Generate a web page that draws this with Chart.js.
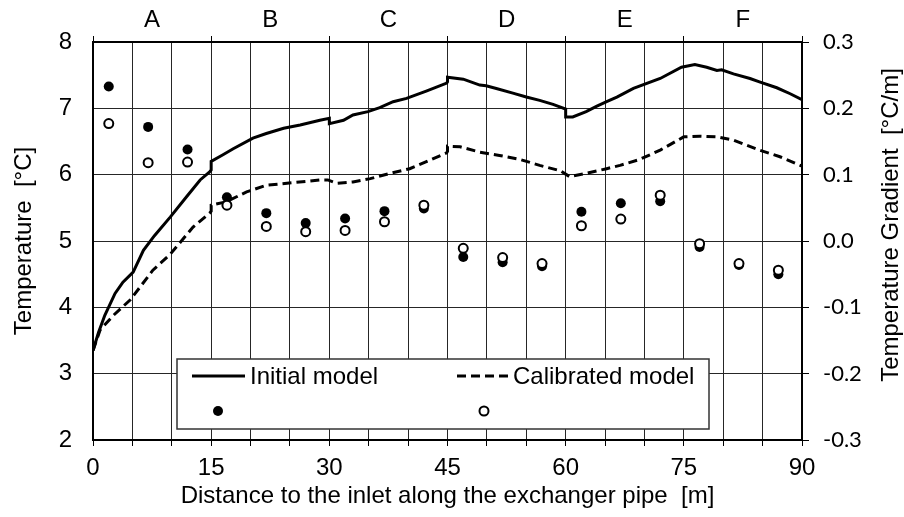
<!DOCTYPE html>
<html>
<head>
<meta charset="utf-8">
<script src="https://cdn.jsdelivr.net/npm/chart.js@4"></script>
<style>
  html, body { margin: 0; padding: 0; background: #fff; }
  #wrap { width: 904px; height: 517px; }
</style>
</head>
<body>
<div id="wrap"><canvas id="pipeChart" width="904" height="517"></canvas></div>
<script>
// pipe sections, labelled along the top axis
const sections = ['A', 'B', 'C', 'D', 'E', 'F'];
const sectionLength = 15;

// simulated temperature along the exchanger pipe: distance [m], temperature [°C]
const initialX = [0, 0.7, 1.5, 2.8, 3.8, 5.1, 6.4, 7.8, 9.8, 11.9, 13.6, 14.8, 15, 15, 16.5, 17.8, 20.3, 22, 24.2, 26.3,
    28.8, 30, 30, 31.8, 33, 34.9, 36.4, 38.1, 39.8, 42.3, 44.9, 45, 45, 47, 49.1, 49.9, 51.2, 53.3, 55, 56.7,
    58.4, 60, 60, 60.9, 62.6, 63.9, 65.2, 66.5, 68.6, 72, 74.7, 76.4, 77.9, 79.2, 79.8, 81.3, 83.4, 84.6, 86.8, 88.5, 90];
const initialT = [3.35, 3.62, 3.88, 4.21, 4.38, 4.53, 4.86, 5.08, 5.36, 5.67, 5.92, 6.04, 6.07, 6.2, 6.3, 6.39, 6.55, 6.62, 6.70, 6.75,
    6.82, 6.85, 6.77, 6.82, 6.90, 6.95, 7.01, 7.10, 7.15, 7.26, 7.38, 7.40, 7.47, 7.44, 7.35, 7.34, 7.30, 7.23, 7.17, 7.12,
    7.06, 6.99, 6.87, 6.87, 6.95, 7.03, 7.10, 7.17, 7.30, 7.45, 7.62, 7.66, 7.62, 7.57, 7.58, 7.52, 7.45, 7.40, 7.31, 7.22, 7.13];

const calibX = [0, 0.9, 2.6, 4.7, 6, 7.6, 9.8, 12.7, 14.8, 15, 15, 16.9, 19.5, 22, 25.4, 28.8, 29.8, 30.9, 33, 35.2,
    37.7, 40.2, 42.8, 44.9, 45, 45, 46.6, 49.1, 51.6, 54.2, 56.7, 59.3, 60.5, 62.6, 65.2, 66.9, 69.4, 72, 75, 77,
    79.2, 81.3, 84.6, 87.2, 90];
const calibT = [3.35, 3.66, 3.88, 4.11, 4.31, 4.56, 4.8, 5.21, 5.42, 5.45, 5.54, 5.59, 5.74, 5.84, 5.88, 5.92, 5.92, 5.87, 5.89, 5.94,
    6.02, 6.09, 6.22, 6.33, 6.35, 6.43, 6.42, 6.34, 6.29, 6.23, 6.14, 6.06, 5.97, 6.02, 6.09, 6.14, 6.23, 6.37, 6.57, 6.58,
    6.57, 6.52, 6.37, 6.27, 6.13];

// temperature gradient at the sampling points [°C/m]
const sampleX = [2, 7, 12, 17, 22, 27, 32, 37, 42, 47, 52, 57, 62, 67, 72, 77, 82, 87];
const gradFilled = [0.233, 0.172, 0.138, 0.066, 0.042, 0.027, 0.034, 0.045, 0.049, -0.024, -0.032, -0.038, 0.044, 0.057, 0.060, -0.009, -0.036, -0.050];
const gradOpen = [0.177, 0.118, 0.119, 0.054, 0.022, 0.014, 0.016, 0.029, 0.054, -0.011, -0.025, -0.034, 0.023, 0.033, 0.069, -0.004, -0.034, -0.044];

// axis ranges
const distRange = [0, 90];
const tempRange = [2, 8];
const gradRange = [-0.3, 0.3];

const toPoints = (xs, ys) => xs.map((x, i) => ({ x: x, y: ys[i] }));

const ARIAL = "'Liberation Sans', Arial, sans-serif";
const GRID = '#262626';
const FS = 24;

// legend drawn inside the plot, two items per row
const insideLegend = {
    id: 'insideLegend',
    afterDatasetsDraw(chart) {
        const ctx = chart.ctx;
        const box = { x: 177, y: 359, w: 532, h: 70 };
        ctx.save();
        ctx.fillStyle = '#fff';
        ctx.fillRect(box.x, box.y, box.w, box.h);
        ctx.strokeStyle = '#333';
        ctx.lineWidth = 1.5;
        ctx.strokeRect(box.x, box.y, box.w, box.h);

        const ds = chart.data.datasets;
        const slots = [
            { i: 0, sx: 192, ex: 245, y: 376 },
            { i: 1, sx: 457, ex: 508, y: 376 },
            { i: 2, sx: 218, y: 411 },
            { i: 3, sx: 484, y: 411 }
        ];
        ctx.font = FS + 'px ' + ARIAL;
        ctx.textBaseline = 'middle';
        ctx.textAlign = 'left';
        slots.forEach(s => {
            const d = ds[s.i];
            if (d.showLine === false) {
                ctx.beginPath();
                ctx.arc(s.sx, s.y, d.pointRadius, 0, Math.PI * 2);
                ctx.fillStyle = d.pointBackgroundColor;
                ctx.fill();
                if (d.pointBorderWidth) {
                    ctx.lineWidth = d.pointBorderWidth;
                    ctx.strokeStyle = d.pointBorderColor;
                    ctx.stroke();
                }
            } else {
                ctx.beginPath();
                ctx.setLineDash(d.borderDash || []);
                ctx.lineWidth = d.borderWidth;
                ctx.strokeStyle = d.borderColor;
                ctx.moveTo(s.sx, s.y);
                ctx.lineTo(s.ex, s.y);
                ctx.stroke();
                ctx.setLineDash([]);
                ctx.fillStyle = '#000';
                ctx.fillText(d.label, s.ex + 5, s.y + 1);
            }
        });
        ctx.restore();
    },
    afterDraw(chart) {
        // right axis title reads bottom-to-top like the left one
        const ctx = chart.ctx;
        ctx.save();
        ctx.translate(891, 225);
        ctx.rotate(-Math.PI / 2);
        ctx.font = FS + 'px ' + ARIAL;
        ctx.fillStyle = '#000';
        ctx.textAlign = 'center';
        ctx.textBaseline = 'middle';
        ctx.fillText('Temperature Gradient  [°C/m]', 0, 0);
        ctx.restore();
    }
};

const ctx = document.getElementById('pipeChart').getContext('2d');
const pipeChart = new Chart(ctx, {
    type: 'line',
    data: {
        datasets: [
            {
                label: 'Initial model',
                data: toPoints(initialX, initialT),
                borderColor: '#000',
                borderWidth: 3,
                pointRadius: 0,
                tension: 0,
                fill: false,
                yAxisID: 'y',
                order: 3
            },
            {
                label: 'Calibrated model',
                data: toPoints(calibX, calibT),
                borderColor: '#000',
                borderWidth: 3,
                borderDash: [9, 5],
                pointRadius: 0,
                tension: 0,
                fill: false,
                yAxisID: 'y',
                order: 4
            },
            {
                label: '',
                type: 'scatter',
                data: toPoints(sampleX, gradFilled),
                showLine: false,
                pointRadius: 5,
                pointBackgroundColor: '#000',
                pointBorderColor: '#000',
                pointBorderWidth: 0,
                yAxisID: 'y2',
                order: 2
            },
            {
                label: '',
                type: 'scatter',
                data: toPoints(sampleX, gradOpen),
                showLine: false,
                pointRadius: 4.5,
                pointBackgroundColor: '#fff',
                pointBorderColor: '#000',
                pointBorderWidth: 2,
                yAxisID: 'y2',
                order: 1
            }
        ]
    },
    options: {
        responsive: false,
        animation: false,
        layout: { padding: 0 },
        plugins: {
            legend: { display: false },
            tooltip: { enabled: false }
        },
        scales: {
            x: {
                type: 'linear',
                position: 'bottom',
                min: distRange[0],
                max: distRange[1],
                afterFit: s => { s.height = 77; },
                ticks: {
                    stepSize: 5,
                    autoSkip: false,
                    maxRotation: 0,
                    padding: 8,
                    color: '#000',
                    font: { family: ARIAL, size: FS },
                    callback: v => (v % sectionLength === 0 ? v : '')
                },
                grid: { color: GRID, lineWidth: 1, tickLength: 6, tickColor: '#000' },
                border: { display: true, color: '#000', width: 2 },
                title: {
                    display: true,
                    text: 'Distance to the inlet along the exchanger pipe  [m]',
                    color: '#000',
                    font: { family: ARIAL, size: FS },
                    padding: { top: 0, bottom: 6 }
                }
            },
            x2: {
                type: 'linear',
                position: 'top',
                display: true,
                min: distRange[0],
                max: distRange[1],
                afterFit: s => { s.height = 42; },
                afterBuildTicks: s => {
                    const t = [];
                    for (let v = distRange[0]; v <= distRange[1]; v += sectionLength / 2) t.push({ value: v });
                    s.ticks = t;
                },
                ticks: {
                    autoSkip: false,
                    maxRotation: 0,
                    padding: 1,
                    color: '#000',
                    font: { family: ARIAL, size: FS },
                    callback: (v, i) => (i % 2 === 1 ? sections[(i - 1) / 2] : '')
                },
                grid: {
                    drawOnChartArea: false,
                    tickLength: 6,
                    tickColor: c => (c.index % 2 === 0 ? '#000' : 'rgba(0,0,0,0)')
                },
                border: { display: true, color: '#000', width: 2 }
            },
            y: {
                type: 'linear',
                position: 'left',
                min: tempRange[0],
                max: tempRange[1],
                afterFit: s => { s.width = 93; },
                ticks: {
                    stepSize: 1,
                    padding: 21,
                    color: '#000',
                    font: { family: ARIAL, size: FS }
                },
                grid: { color: GRID, lineWidth: 1, drawTicks: false },
                border: { display: true, color: '#000', width: 2 },
                title: {
                    display: true,
                    text: 'Temperature  [°C]',
                    color: '#000',
                    font: { family: ARIAL, size: FS },
                    padding: { top: 10, bottom: 0 }
                }
            },
            y2: {
                type: 'linear',
                position: 'right',
                min: gradRange[0],
                max: gradRange[1],
                afterFit: s => { s.width = 102; },
                ticks: {
                    stepSize: 0.1,
                    padding: 14,
                    color: '#000',
                    font: { family: "Lato, 'Open Sans', sans-serif", size: 22 },
                    callback: v => v.toFixed(1)
                },
                grid: { drawOnChartArea: false, tickLength: 7, tickColor: '#000' },
                border: { display: true, color: '#000', width: 2 }
            }
        }
    },
    plugins: [insideLegend]
});
</script>
</body>
</html>
